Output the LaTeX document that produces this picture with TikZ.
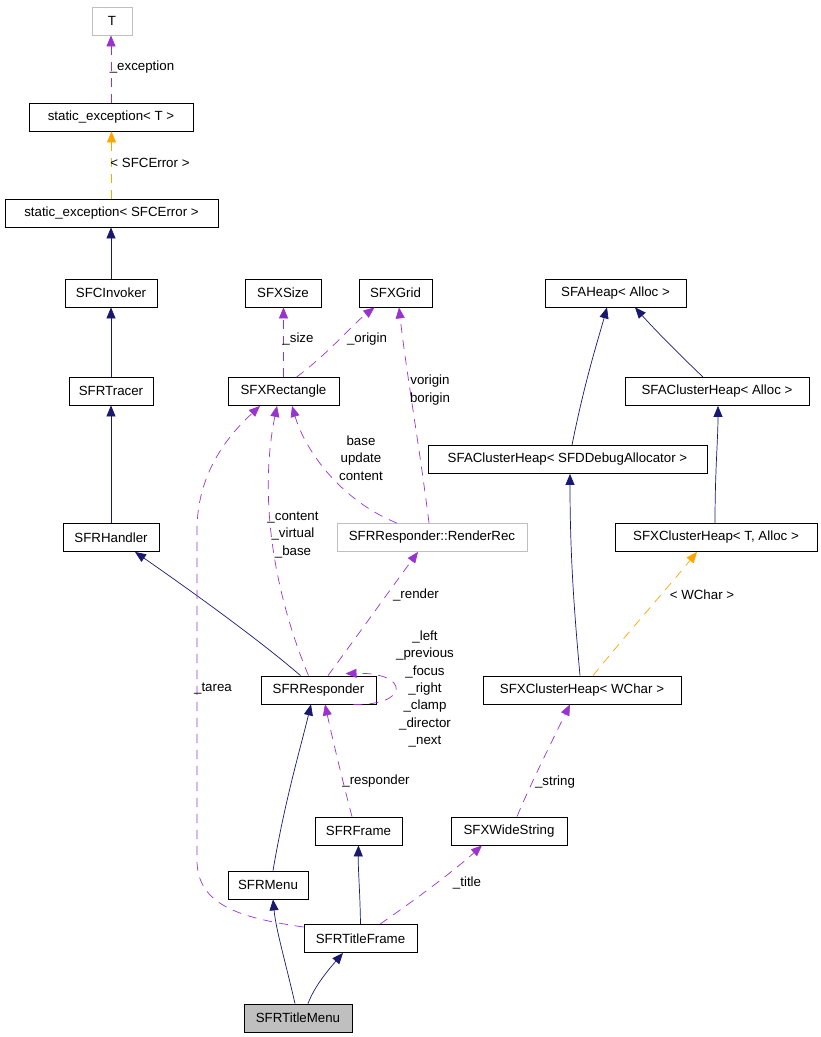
\documentclass[tikz,border=0pt]{standalone}
\usepackage{fontspec}
\setmainfont{Liberation Sans}
\usetikzlibrary{arrows.meta}
\definecolor{edgenavy}{HTML}{191970}
\definecolor{edgeplum}{HTML}{9A32CD}
\definecolor{edgeorange}{HTML}{FFA500}
\definecolor{boxgray}{HTML}{BFBFBF}

\begin{document}
\begin{tikzpicture}[
  x=1pt, y=-1pt,
  >={Triangle[length=11pt,width=9pt]},
  cls/.style={draw=black, line width=0.8pt, minimum height=28pt, inner sep=0pt,
              font=\fontsize{13.3}{17}\selectfont},
  ext/.style={cls, draw=boxgray},
  cur/.style={cls, fill=boxgray},
  inh/.style={->, edgenavy, line width=0.7pt},
  memb/.style={->, edgeplum, line width=0.7pt, dash pattern=on 9pt off 7pt},
  tmpl/.style={->, edgeorange, line width=0.7pt, dash pattern=on 9pt off 7pt},
  elbl/.style={font=\fontsize{13.3}{17.3}\selectfont, align=center, inner sep=0pt},
]

% ── Page (unit = 1 px) ────────────────────────────────────────────────────────
\useasboundingbox (0,0) rectangle (820,1037);

% ── Classes, left column ──────────────────────────────────────────────────────
\node[ext, minimum width=40pt]  (T)     at (112,21)    {T};
\node[cls, minimum width=164pt] (seT)   at (111,117)   {static\_exception< T >};
\node[cls, minimum width=213pt] (seErr) at (111.5,213) {static\_exception< SFCError >};
\node[cls, minimum width=92pt]  (inv)   at (111,293)   {SFCInvoker};
\node[cls, minimum width=84pt]  (trc)   at (111,391)   {SFRTracer};
\node[cls, minimum width=96pt]  (hnd)   at (111,537.5) {SFRHandler};

% ── Classes, middle ───────────────────────────────────────────────────────────
\node[cls, minimum width=76pt]  (size)  at (283,293)   {SFXSize};
\node[cls, minimum width=73pt]  (grid)  at (395.5,293) {SFXGrid};
\node[cls, minimum width=111pt] (rect)  at (283.5,391.5) {SFXRectangle};
\node[ext, minimum width=190pt] (rrec)  at (432,537.5) {SFRResponder::RenderRec};
\node[cls, minimum width=115pt] (resp)  at (318.5,690) {SFRResponder};
\node[cls, minimum width=87pt]  (frm)   at (358.5,831) {SFRFrame};
\node[cls, minimum width=116pt] (wstr)  at (509,831)   {SFXWideString};
\node[cls, minimum width=80pt]  (menu)  at (268,885)   {SFRMenu};
\node[cls, minimum width=113pt] (tfrm)  at (360.5,938.5) {SFRTitleFrame};
\node[cur, minimum width=108pt] (tmenu) at (298,1018)  {SFRTitleMenu};

% ── Classes, right ────────────────────────────────────────────────────────────
\node[cls, minimum width=141pt] (heap)  at (615.5,293) {SFAHeap< Alloc >};
\node[cls, minimum width=184pt] (cha)   at (717,391.5) {SFAClusterHeap< Alloc >};
\node[cls, minimum width=279pt] (chd)   at (567.5,459.5) {SFAClusterHeap< SFDDebugAllocator >};
\node[cls, minimum width=202pt] (xcta)  at (716,537.5) {SFXClusterHeap< T, Alloc >};
\node[cls, minimum width=198pt] (xcw)   at (582,690)   {SFXClusterHeap< WChar >};

% ── Inheritance (solid) ───────────────────────────────────────────────────────
\draw[inh] (inv.north) -- (inv.north |- seErr.south);
\draw[inh] (trc.north) -- (trc.north |- inv.south);
\draw[inh] (hnd.north) -- (hnd.north |- trc.south);
\draw[inh] ([xshift=-18pt]resp.north) .. controls (262,642) and (190,590) .. ([xshift=24pt]hnd.south);
\draw[inh] ([xshift=5pt]menu.north) .. controls (285,800) and (300,750) .. ([xshift=-7.5pt]resp.south);
\draw[inh] (tfrm.north) .. controls (360,890) and (358,870) .. (frm.south);
\draw[inh] ([xshift=-3pt]tmenu.north) .. controls (285,960) and (276,930) .. ([xshift=5pt]menu.south);
\draw[inh] ([xshift=10pt]tmenu.north) .. controls (315,985) and (330,968) .. ([xshift=-17.5pt]tfrm.south);
\draw[inh] ([xshift=-2pt]xcw.north) .. controls (575,620) and (570,560) .. ([xshift=2.5pt]chd.south);
\draw[inh] ([xshift=4.5pt]chd.north) .. controls (585,380) and (598,340) .. ([xshift=-8.5pt]heap.south);
\draw[inh] ([xshift=-14pt]cha.north) .. controls (680,355) and (655,330) .. ([xshift=19.5pt]heap.south);
\draw[inh] ([xshift=-1pt]xcta.north) .. controls (715,470) and (718,440) .. ([xshift=1pt]cha.south);

% ── Template instances (orange dashed) ───────────────────────────────────────
\draw[tmpl] (seErr.north) -- (seErr.north |- seT.south);
\draw[tmpl] ([xshift=11pt]xcw.north) .. controls (630,630) and (670,585) .. ([xshift=-19pt]xcta.south);

% ── Members (purple dashed) ───────────────────────────────────────────────────
\draw[memb] (seT.north) -- (seT.north |- T.south);
\draw[memb] (rect.north) -- (rect.north |- size.south);
\draw[memb] ([xshift=13pt]rect.north) .. controls (330,352) and (352,325) .. ([xshift=-21pt]grid.south);
\draw[memb] ([xshift=-3pt]rrec.north) .. controls (420,450) and (406,370) .. ([xshift=3.5pt]grid.south);
\draw[memb] ([xshift=-35pt]rrec.north) .. controls (340,500) and (305,450) .. ([xshift=8.5pt]rect.south);
\draw[memb] ([xshift=-10pt]resp.north) .. controls (275,595) and (258,500) .. ([xshift=-6.5pt]rect.south);
\draw[memb] ([xshift=9.5pt]resp.north) .. controls (360,632) and (390,590) .. ([xshift=-14pt]rrec.south);
\draw[memb] ([xshift=35pt]resp.south) .. controls (410,706) and (410,672) .. ([xshift=27pt,yshift=2pt]resp.north);
\draw[memb] ([yshift=11.5pt]tfrm.west) .. controls (240,918) and (197,905) .. (197,860)
  -- (197,530) .. controls (197,470) and (232,432) .. ([xshift=-23.5pt]rect.south);
\draw[memb] ([xshift=-6.5pt]frm.north) .. controls (345,790) and (335,750) .. ([xshift=6.5pt]resp.south);
\draw[memb] ([xshift=19.5pt]tfrm.north) .. controls (415,900) and (455,870) .. ([xshift=-27pt]wstr.south);
\draw[memb] ([xshift=8pt]wstr.north) .. controls (530,785) and (555,735) .. ([xshift=-12pt]xcw.south);

% ── Edge labels ───────────────────────────────────────────────────────────────
\node[elbl] (lexc)  at (142,67)  {\_exception};
\node[elbl] (lerr)  at (150,163) {< SFCError >};
\node[elbl] (lsize) at (298,339) {\_size};
\node[elbl] (lorg)  at (367,339) {\_origin};
\node[elbl] (lvb)   at (430,390) {vorigin\\borigin};
\node[elbl] (lbuc)  at (361,458) {base\\update\\content};
\node[elbl] (lcvb)  at (293,535) {\_content\\\_virtual\\\_base};
\node[elbl] (lrnd)  at (416,595) {\_render};
\node[elbl] (lself) at (425,689) {\_left\\\_previous\\\_focus\\\_right\\\_clamp\\\_director\\\_next};
\node[elbl] (ltar)  at (213,689) {\_tarea};
\node[elbl] (lrsp)  at (376,781) {\_responder};
\node[elbl] (lstr)  at (555,782) {\_string};
\node[elbl] (lwch)  at (702,595) {< WChar >};
\node[elbl] (lttl)  at (467,883) {\_title};

\end{tikzpicture}
\end{document}
